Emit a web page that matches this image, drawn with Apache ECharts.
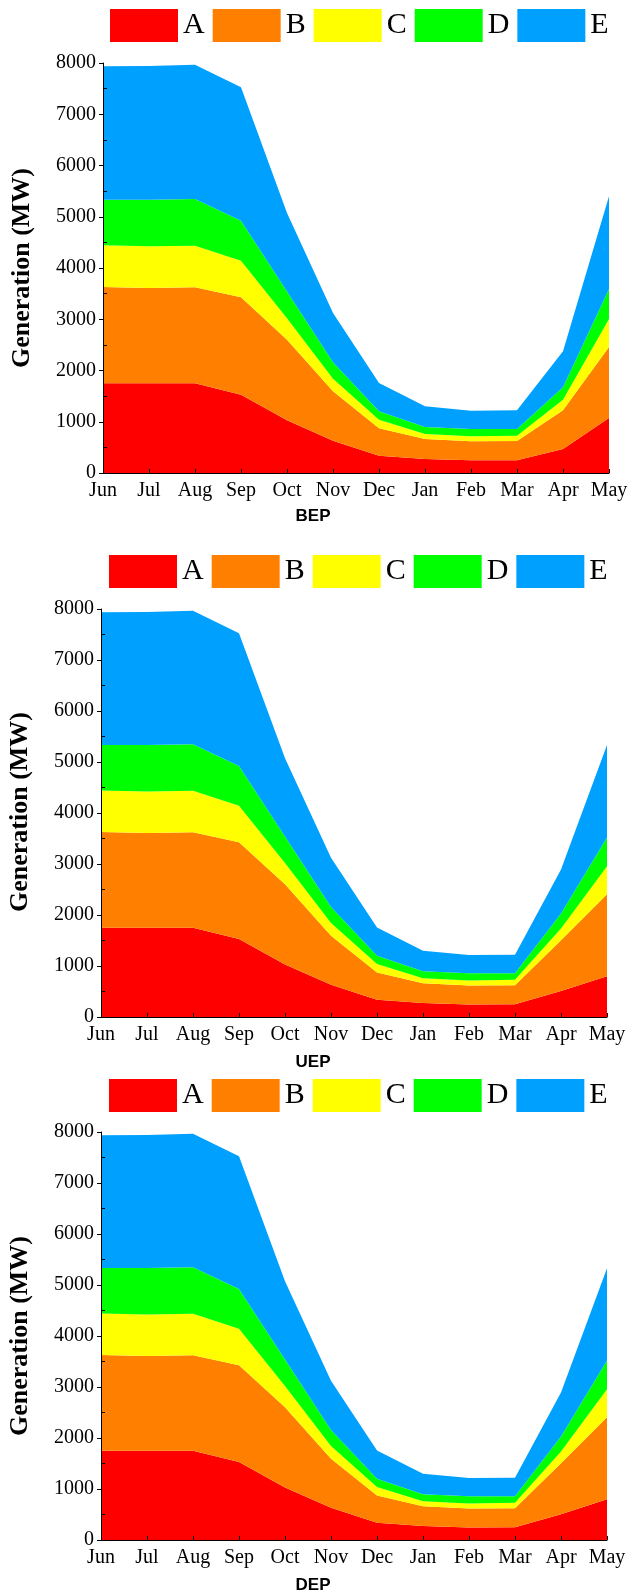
<!DOCTYPE html>
<html>
<head>
<meta charset="utf-8">
<script src="https://cdn.jsdelivr.net/npm/echarts@6/dist/echarts.min.js"></script>
<style>
  html, body { margin: 0; padding: 0; background: #fff; }
  #chart { width: 630px; height: 1595px; }
</style>
</head>
<body>
<div id="chart"></div>
<script>
// Monthly generation by source, three scenarios, stacked areas
const months = ['Jun', 'Jul', 'Aug', 'Sep', 'Oct', 'Nov', 'Dec', 'Jan', 'Feb', 'Mar', 'Apr', 'May'];
const sourceNames = ['A', 'B', 'C', 'D', 'E'];
const sourceColors = ['#FF0000', '#FF8000', '#FFFF00', '#00FF00', '#00A0FF'];
const yMajorTicks = [0, 1000, 2000, 3000, 4000, 5000, 6000, 7000, 8000];
const yMinorTicks = [500, 1500, 2500, 3500, 4500, 5500, 6500, 7500];

// BEP (MW per source)
const bepA = [1750, 1750, 1750, 1528, 1030, 630, 338, 273, 247, 250, 468, 1073];
const bepB = [1879, 1860, 1873, 1900, 1572, 963, 534, 390, 371, 374, 755, 1386];
const bepC = [813, 813, 813, 715, 418, 248, 169, 98, 97, 104, 208, 546];
const bepD = [891, 910, 910, 781, 520, 318, 162, 137, 144, 131, 241, 585];
const bepE = [2602, 2607, 2621, 2601, 1533, 963, 553, 403, 357, 364, 702, 1808];

// UEP
const uepA = [1750, 1750, 1750, 1528, 1030, 630, 338, 273, 247, 250, 508, 799];
const uepB = [1879, 1860, 1873, 1900, 1572, 963, 534, 390, 371, 374, 997, 1609];
const uepC = [813, 813, 813, 715, 418, 248, 169, 98, 97, 104, 229, 550];
const uepD = [891, 910, 910, 781, 520, 318, 162, 137, 144, 131, 294, 562];
const uepE = [2602, 2607, 2621, 2601, 1533, 963, 553, 403, 357, 364, 864, 1813];

// DEP
const depA = [1750, 1750, 1750, 1528, 1030, 630, 338, 273, 247, 250, 504, 798];
const depB = [1879, 1860, 1873, 1900, 1572, 963, 534, 390, 371, 374, 1000, 1609];
const depC = [813, 813, 813, 715, 418, 248, 169, 98, 97, 104, 229, 549];
const depD = [891, 910, 910, 781, 520, 318, 162, 137, 144, 131, 294, 563];
const depE = [2602, 2607, 2621, 2601, 1533, 963, 553, 403, 357, 364, 864, 1811];

const panels = [
  { title: 'BEP', data: [bepA, bepB, bepC, bepD, bepE],
    grid: { left: 103, top: 63, width: 506, height: 410 },
    legendLeft: 110, legendTop: 9, titleY: 516, yTitleX: 22, yTitleY: 268 },
  { title: 'UEP', data: [uepA, uepB, uepC, uepD, uepE],
    grid: { left: 101, top: 609, width: 506, height: 408 },
    legendLeft: 109, legendTop: 555, titleY: 1062, yTitleX: 20, yTitleY: 812 },
  { title: 'DEP', data: [depA, depB, depC, depD, depE],
    grid: { left: 101, top: 1132, width: 506, height: 408 },
    legendLeft: 109, legendTop: 1079, titleY: 1585, yTitleX: 20, yTitleY: 1336 }
];

const serif = 'Liberation Serif, Times New Roman, serif';
const sans = 'Liberation Sans, Arial, sans-serif';

const grids = [], xAxes = [], yAxes = [], legends = [], series = [], graphics = [];

panels.forEach((p, i) => {
  grids.push(Object.assign({ outerBoundsMode: 'none', containLabel: false }, p.grid));

  xAxes.push({
    type: 'category', gridIndex: i, data: months, boundaryGap: false, z: 5,
    axisLine: { show: true, lineStyle: { color: '#000', width: 1 } },
    axisTick: { show: true, inside: true, length: 4, alignWithLabel: true, lineStyle: { color: '#000' } },
    axisLabel: { color: '#000', fontFamily: serif, fontSize: 20, margin: 8, interval: 0 },
    splitLine: { show: false }
  });

  // main value axis: labels and outward ticks at every 1000
  yAxes.push({
    type: 'value', gridIndex: i, position: 'left', min: 0, max: 8000, interval: 1000, z: 5,
    axisLine: { show: true, lineStyle: { color: '#000', width: 1 } },
    axisTick: { show: true, inside: false, length: 4, lineStyle: { color: '#000' } },
    axisLabel: { color: '#000', fontFamily: serif, fontSize: 20, margin: 7,
      customValues: yMajorTicks, formatter: v => String(v) },
    splitLine: { show: false }
  });
  // overlay axis on the same edge: inward half-step ticks
  yAxes.push({
    type: 'value', gridIndex: i, position: 'left', offset: 0, min: 0, max: 8000, interval: 500, z: 5,
    axisLine: { show: false },
    axisTick: { show: true, inside: true, length: 4, lineStyle: { color: '#000' },
      customValues: yMinorTicks },
    axisLabel: { show: false },
    splitLine: { show: false }
  });

  legends.push({
    data: sourceNames, left: p.legendLeft, top: p.legendTop, orient: 'horizontal',
    icon: 'rect', itemWidth: 68, itemHeight: 33, itemGap: 8, padding: 0,
    selectedMode: false,
    textStyle: { color: '#000', fontFamily: serif, fontSize: 30, width: 22 }
  });

  sourceNames.forEach((name, k) => {
    series.push({
      name: name, type: 'line', xAxisIndex: i, yAxisIndex: i * 2,
      stack: 'panel' + i, data: p.data[k],
      symbol: 'none', showSymbol: false,
      color: sourceColors[k],
      itemStyle: { color: sourceColors[k] },
      lineStyle: { width: 0 },
      areaStyle: { color: sourceColors[k], opacity: 1 },
      emphasis: { disabled: true },
      z: 2
    });
  });

  graphics.push({
    type: 'text', x: 313, y: p.titleY, z: 10,
    style: { text: p.title, fill: '#000', fontFamily: sans, fontSize: 17, fontWeight: 'bold',
      align: 'center', verticalAlign: 'middle' }
  });
  graphics.push({
    type: 'text', x: p.yTitleX, y: p.yTitleY, rotation: Math.PI / 2, z: 10,
    style: { text: 'Generation (MW)', fill: '#000', fontFamily: serif, fontSize: 26, fontWeight: 'bold',
      align: 'center', verticalAlign: 'middle' }
  });
});

const chart = echarts.init(document.getElementById('chart'), null, { renderer: 'canvas' });
chart.setOption({
  animation: false,
  backgroundColor: '#fff',
  grid: grids,
  xAxis: xAxes,
  yAxis: yAxes,
  legend: legends,
  series: series,
  graphic: graphics,
  tooltip: { show: false }
});
</script>
</body>
</html>
